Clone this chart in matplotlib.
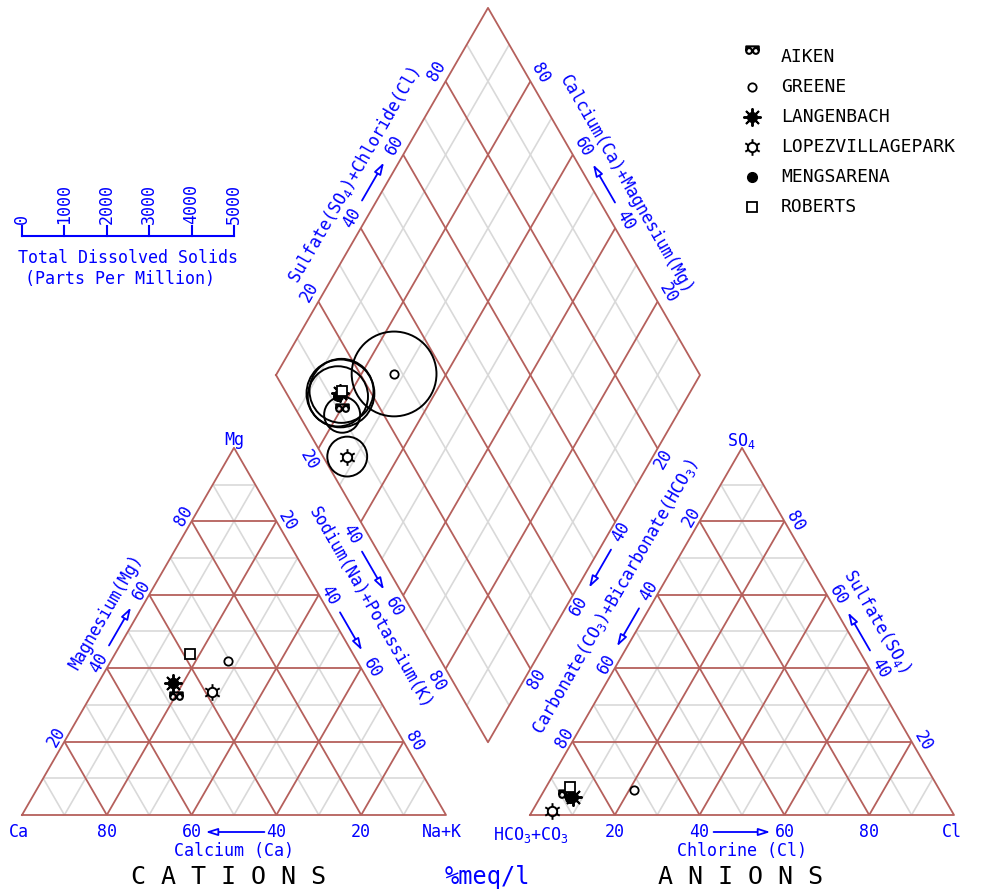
import numpy as np
import matplotlib.pyplot as plt
from matplotlib.path import Path
from matplotlib.patches import Circle

plt.rcParams['font.family'] = ['DejaVu Sans Mono', 'DejaVu Sans']
plt.rcParams['mathtext.default'] = 'regular'

# percent meq/l
samples = ['AIKEN', 'GREENE', 'LANGENBACH', 'LOPEZVILLAGEPARK', 'MENGSARENA', 'ROBERTS']
mg = np.array([30.5, 42.0, 35.9, 33.6, 36.0, 43.9])
nak = np.array([21.0, 27.7, 17.7, 27.9, 17.5, 17.6])
ca = 100 - mg - nak
so4 = np.array([3.8, 6.8, 5.0, 1.2, 4.6, 7.7])
cl = np.array([6.4, 21.2, 7.7, 4.5, 7.1, 5.6])
hco3 = 100 - so4 - cl
tds = np.array([425, 1000, 800, 470, 710, 755])  # ppm

tds_ticks = [0, 1000, 2000, 3000, 4000, 5000]
pct_ticks = [20, 40, 60, 80]

BLUE = '#0000ff'
BROWN = '#b5605c'
GREY = '#d9d9d9'

SIDE = 424.0
HGT = SIDE * np.sqrt(3) / 2
LEFT0 = (22.0, 815.0)
RIGHT0 = (530.0, 815.0)
GAP = RIGHT0[0] - LEFT0[0] - SIDE
BOT = (LEFT0[0] + SIDE + GAP / 2, LEFT0[1] - GAP * np.sqrt(3) / 2)
LC = (BOT[0] - SIDE / 2, BOT[1] - HGT)
TDS_LEN = 212.0


def tri_xy(o, a, c):
    # a = right corner component, c = top component
    return o[0] + SIDE * (a + c / 2) / 100, o[1] - HGT * c / 100


def dia_xy(n, s):
    # n = Na+K, s = SO4+Cl
    return LC[0] + SIDE / 2 * (n + s) / 100, LC[1] + HGT * (n - s) / 100


fig = plt.figure(figsize=(9.88, 8.94), dpi=100)
ax = fig.add_axes([0, 0, 1, 1])
ax.set_xlim(0, 988)
ax.set_ylim(894, 0)
ax.axis('off')


def seg(p, q, col, z, lw):
    ax.plot([p[0], q[0]], [p[1], q[1]], color=col, lw=lw, zorder=z,
            solid_capstyle='butt')


def tri_grid(o):
    for k in range(10, 100, 10):
        col, z, lw = (BROWN, 2, 1.3) if k % 20 == 0 else (GREY, 1, 1.2)
        seg(tri_xy(o, 0, k), tri_xy(o, 100 - k, k), col, z, lw)
        seg(tri_xy(o, k, 0), tri_xy(o, k, 100 - k), col, z, lw)
        seg(tri_xy(o, 100 - k, 0), tri_xy(o, 0, 100 - k), col, z, lw)
    pts = [tri_xy(o, 0, 0), tri_xy(o, 100, 0), tri_xy(o, 0, 100), tri_xy(o, 0, 0)]
    ax.plot([p[0] for p in pts], [p[1] for p in pts], color=BROWN, lw=1.3, zorder=2)


def dia_grid():
    for k in range(10, 100, 10):
        col, z, lw = (BROWN, 2, 1.3) if k % 20 == 0 else (GREY, 1, 1.2)
        seg(dia_xy(k, 0), dia_xy(k, 100), col, z, lw)
        seg(dia_xy(0, k), dia_xy(100, k), col, z, lw)
    pts = [dia_xy(0, 0), dia_xy(100, 0), dia_xy(100, 100), dia_xy(0, 100), dia_xy(0, 0)]
    ax.plot([p[0] for p in pts], [p[1] for p in pts], color=BROWN, lw=1.3, zorder=2)


tri_grid(LEFT0)
tri_grid(RIGHT0)
dia_grid()


def label(x, y, s, rot=0, size=12, color=BLUE, **kw):
    ax.text(x, y, s, rotation=rot, rotation_mode='anchor', ha='center',
            va='center', fontsize=size, color=color, **kw)


def arrow(p, q):
    ax.annotate('', xy=q, xytext=p,
                arrowprops=dict(arrowstyle='-|>,head_length=0.7,head_width=0.22',
                                ec=BLUE, fc='white', lw=1.3,
                                shrinkA=0, shrinkB=0))


def axis_arrow(p40, p60, length=44):
    mx, my = (p40[0] + p60[0]) / 2, (p40[1] + p60[1]) / 2
    dx, dy = p60[0] - p40[0], p60[1] - p40[1]
    d = np.hypot(dx, dy)
    dx, dy = dx / d * length / 2, dy / d * length / 2
    arrow((mx - dx, my - dy), (mx + dx, my + dy))


# tick labels along each edge
pos = {}
for v in pct_ticks:
    x, y = tri_xy(LEFT0, 100 - v, 0)
    label(x, y + 17, str(v))
    x, y = tri_xy(RIGHT0, v, 0)
    label(x, y + 17, str(v))
    x, y = tri_xy(LEFT0, 0, v)
    pos[('mg', v)] = (x - 8, y - 5)
    x, y = tri_xy(LEFT0, v, 100 - v)
    pos[('nak', v)] = (x + 11, y)
    x, y = dia_xy(0, v)
    pos[('dso4', v)] = (x - 9, y - 10)
    x, y = dia_xy(100 - v, 100)
    pos[('dcamg', v)] = (x + 10, y - 8)
    x, y = dia_xy(v, 0)
    pos[('dnak', v)] = (x - 9, y + 12)
    x, y = dia_xy(100, 100 - v)
    pos[('dco3', v)] = (x + 6, y + 10)
    x, y = tri_xy(RIGHT0, 0, 100 - v)
    pos[('co3', v)] = (x - 8, y - 4)
    x, y = tri_xy(RIGHT0, 100 - v, v)
    pos[('so4', v)] = (x + 11, y)

rots = {'mg': 60, 'nak': -60, 'dso4': 60, 'dcamg': -60,
        'dnak': -60, 'dco3': 60, 'co3': 60, 'so4': -60}
for key, rot in rots.items():
    for v in pct_ticks:
        label(*pos[(key, v)], str(v), rot=rot)
    axis_arrow(pos[(key, 40)], pos[(key, 60)])

# bottom axis arrows
x60, y0 = tri_xy(LEFT0, 40, 0)
x40, _ = tri_xy(LEFT0, 60, 0)
arrow((x40 - 12, y0 + 17), (x60 + 14, y0 + 17))
x40, _ = tri_xy(RIGHT0, 40, 0)
x60, _ = tri_xy(RIGHT0, 60, 0)
arrow((x40 + 14, y0 + 17), (x60 - 14, y0 + 17))

# corner labels
label(19, 832, 'Ca')
label(442, 832, 'Na+K')
label(531, 835, 'HCO$_3$+CO$_3$')
label(952, 832, 'Cl')
label(234, 440, 'Mg')
label(741, 441, 'SO$_4$')

# axis titles
label(106, 612, 'Magnesium(Mg)', rot=60)
label(355, 175, 'Sulfate(SO$_4$)+Chloride(Cl)', rot=60)
label(626, 185, 'Calcium(Ca)+Magnesium(Mg)', rot=-60)
label(370, 608, 'Sodium(Na)+Potassium(K)', rot=-60)
label(615, 597, 'Carbonate(CO$_3$)+Bicarbonate(HCO$_3$)', rot=60)
label(877, 621, 'Sulfate(SO$_4$)', rot=-60)
label(234, 851, 'Calcium (Ca)')
label(742, 851, 'Chlorine (Cl)')
label(228, 877, 'C A T I O N S', size=18, color='black')
label(487, 877, '%meq/l', size=17)
label(740, 877, 'A N I O N S', size=18, color='black')

# TDS scale
sx0, sy = 22.0, 236.0
ax.plot([sx0, sx0 + TDS_LEN], [sy, sy], color=BLUE, lw=1.5)
for t in tds_ticks:
    tx = sx0 + t / tds_ticks[-1] * TDS_LEN
    ax.plot([tx, tx], [sy, sy - 10], color=BLUE, lw=1.5)
    ax.text(tx, sy - 12, str(t), rotation=90, ha='center', va='bottom',
            fontsize=12, color=BLUE)
label(128, 258, 'Total Dissolved Solids')
label(120, 279, '(Parts Per Million)')


# markers
def spokes(n, r0, r1, phase=0.0):
    verts, codes = [], []
    for k in range(n):
        a = phase + 2 * np.pi * k / n
        verts += [(r0 * np.cos(a), r0 * np.sin(a)), (r1 * np.cos(a), r1 * np.sin(a))]
        codes += [Path.MOVETO, Path.LINETO]
    return Path(verts, codes)


aiken_mk = Path.make_compound_path(
    Path.circle((-0.26, 0.5), 0.22), Path.circle((0.26, 0.5), 0.22),
    Path([(-0.48, 0.5), (-0.48, 0.85), (0.48, 0.85), (0.48, 0.5)],
         [Path.MOVETO, Path.LINETO, Path.LINETO, Path.LINETO]))
lopez_mk = Path.make_compound_path(Path.circle((0, 0), 0.28),
                                   spokes(6, 0.28, 0.5, np.pi / 2))

styles = {
    'AIKEN': [dict(marker=aiken_mk, ms=16, mfc='none', mec='black', mew=1.5)],
    'GREENE': [dict(marker='o', ms=6, mfc='white', mec='black', mew=1.3)],
    'LANGENBACH': [dict(marker=(8, 2, 0), ms=13, mec='black', mew=1.4),
                   dict(marker='o', ms=7, mfc='black', mec='black')],
    'LOPEZVILLAGEPARK': [dict(marker=lopez_mk, ms=12, mfc='none', mec='black', mew=1.4)],
    'MENGSARENA': [dict(marker='o', ms=7, mfc='black', mec='black')],
    'ROBERTS': [dict(marker='s', ms=6.5, mfc='white', mec='black', mew=1.3)],
}


def put(x, y, name):
    for st in styles[name]:
        ax.plot([x], [y], ls='none', zorder=5, **st)


for i, name in enumerate(samples):
    put(*tri_xy(LEFT0, nak[i], mg[i]), name)
    put(*tri_xy(RIGHT0, cl[i], so4[i]), name)
    px, py = dia_xy(nak[i], so4[i] + cl[i])
    put(px, py, name)
    r = tds[i] / tds_ticks[-1] * TDS_LEN
    ax.add_patch(Circle((px, py), r, fill=False, ec='black', lw=1.4, zorder=4))

# legend
for i, name in enumerate(samples):
    ly = 57 + 30 * i
    put(752, ly, name)
    ax.text(781, ly, name, ha='left', va='center', fontsize=13, color='black')

fig.savefig('out.png', dpi=100)
